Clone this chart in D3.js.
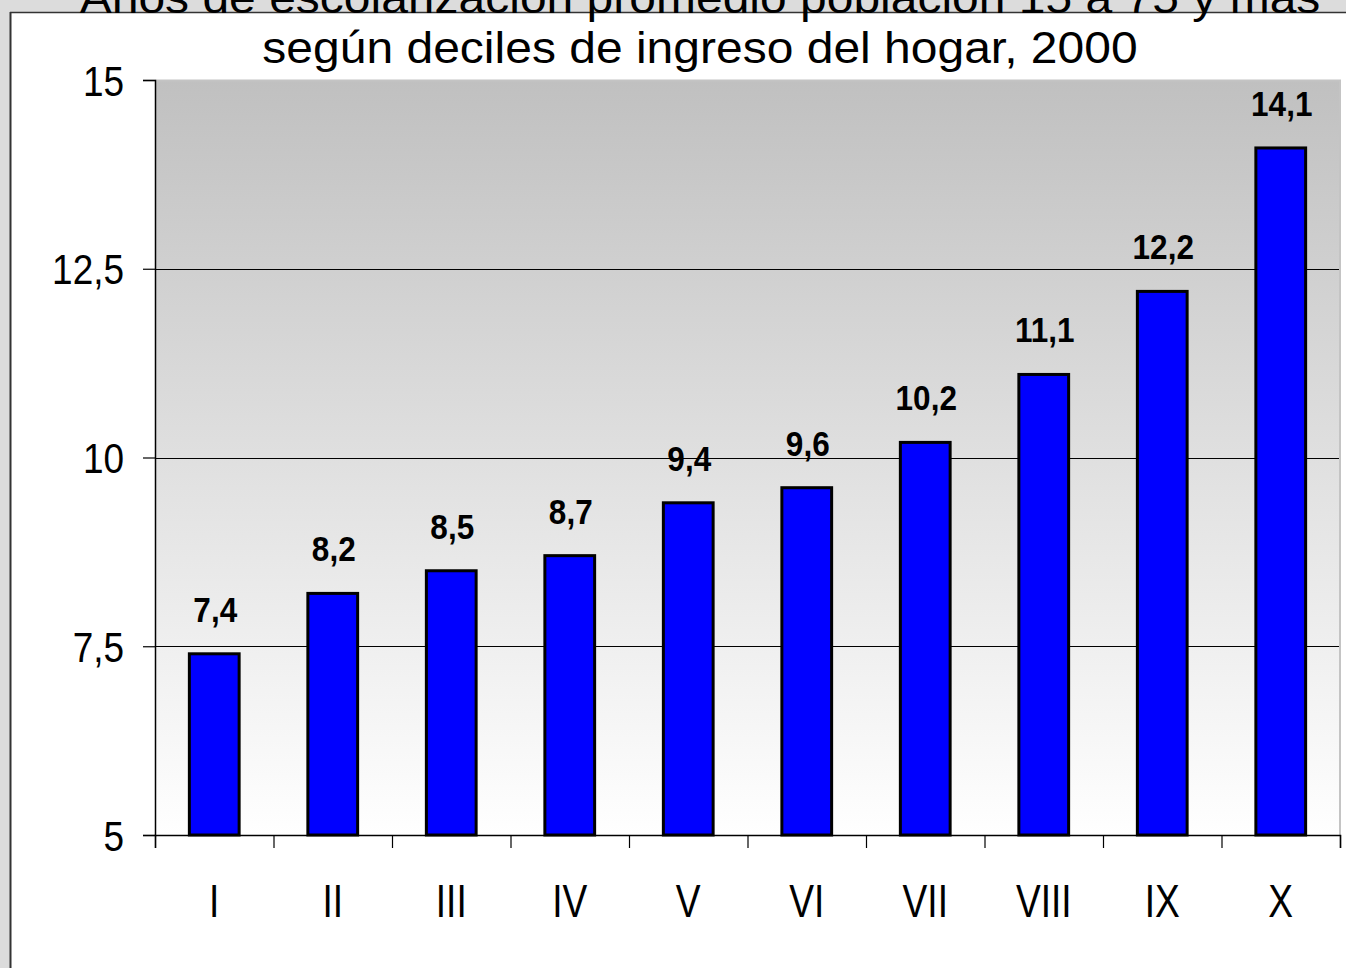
<!DOCTYPE html>
<html>
<head>
<meta charset="utf-8">
<script src="https://cdn.jsdelivr.net/npm/d3@7"></script>
<style>
  body { margin: 0; background: #fff; }
  svg { display: block; font-family: "Liberation Sans", Arial, sans-serif; }
</style>
</head>
<body>
<svg id="chart" width="1346" height="968"></svg>
<script>
// Datos
var titulo = ["Años de escolarización promedio población 15 a 75 y más", "según deciles de ingreso del hogar, 2000"];
var deciles = ["I", "II", "III", "IV", "V", "VI", "VII", "VIII", "IX", "X"];
var escolaridad = [7.4, 8.2, 8.5, 8.7, 9.4, 9.6, 10.2, 11.1, 12.2, 14.1];
var yTicks = [5, 7.5, 10, 12.5, 15];

var W = 1346, H = 968;
var plot = { left: 155, right: 1340, top: 80, bottom: 835 };

var locale = d3.formatLocale({ decimal: ",", thousands: ".", grouping: [3], currency: ["$", ""] });
var fmtTick = locale.format("~g");
var fmtVal = locale.format(".1f");

var svg = d3.select("#chart");

// fondo gris exterior + zona blanca del gráfico
svg.append("rect").attr("width", W).attr("height", H).attr("fill", "#dcdcdc");
svg.append("rect").attr("x", 11).attr("y", 13).attr("width", W - 11).attr("height", H - 13).attr("fill", "#fff");
svg.append("line").attr("x1", 10.5).attr("x2", 10.5).attr("y1", 12).attr("y2", H).attr("stroke", "#333").attr("stroke-width", 2);
svg.append("line").attr("x1", 10).attr("x2", W).attr("y1", 12.5).attr("y2", 12.5).attr("stroke", "#333").attr("stroke-width", 1.5);

var defs = svg.append("defs");
var grad = defs.append("linearGradient").attr("id", "bg").attr("x1", 0).attr("y1", 0).attr("x2", 0).attr("y2", 1);
grad.append("stop").attr("offset", "0%").attr("stop-color", "#c0c0c0");
grad.append("stop").attr("offset", "100%").attr("stop-color", "#ffffff");

var x = d3.scaleBand().domain(deciles).range([plot.left, plot.right]).paddingInner(0.58).paddingOuter(0.29);
var xEdges = d3.scaleLinear().domain([0, deciles.length]).range([plot.left, plot.right]);
var y = d3.scaleLinear().domain([5, 15]).range([plot.bottom, plot.top]);

// area del grafico
svg.append("rect")
  .attr("x", plot.left).attr("y", plot.top)
  .attr("width", plot.right - plot.left).attr("height", plot.bottom - plot.top)
  .attr("fill", "url(#bg)");
svg.append("path")
  .attr("d", "M" + plot.left + "," + (plot.top + 0.5) + "H" + plot.right + "V" + plot.bottom)
  .attr("fill", "none").attr("stroke", "#c4c4c4").attr("stroke-width", 2);

// lineas de division
svg.append("g").selectAll("line").data(yTicks.filter(d => d > 5 && d < 15)).join("line")
  .attr("x1", plot.left).attr("x2", plot.right - 1)
  .attr("y1", d => Math.round(y(d)) + 0.5).attr("y2", d => Math.round(y(d)) + 0.5)
  .attr("stroke", "#000").attr("stroke-width", 1.2);

// eje Y
var gy = svg.append("g").attr("transform", "translate(" + plot.left + ",0)")
  .call(d3.axisLeft(y).tickValues(yTicks).tickSize(12).tickPadding(19).tickFormat(fmtTick));
gy.select(".domain").attr("stroke", "#000").attr("stroke-width", 1.5);
gy.selectAll(".tick line").attr("stroke", "#000").attr("stroke-width", 1.2);
gy.selectAll(".tick text")
  .attr("font-size", 42).attr("font-family", "Liberation Sans, Arial, sans-serif").attr("fill", "#000")
  .attr("x", -31 / 0.88).attr("dy", "0.36em")
  .attr("transform", "scale(0.88,1)");

// eje X: marcas en los limites de cada decil
var gx = svg.append("g").attr("transform", "translate(0," + plot.bottom + ")")
  .call(d3.axisBottom(xEdges).ticks(deciles.length).tickSize(13).tickFormat(""));
gx.select(".domain").attr("stroke", "#000").attr("stroke-width", 1.5);
gx.selectAll(".tick line").attr("stroke", "#000").attr("stroke-width", 1.2);

// etiquetas de deciles
svg.append("g").selectAll("text").data(deciles).join("text")
  .attr("transform", d => "translate(" + (x(d) + x.bandwidth() / 2) + ",917) scale(0.79,1)")
  .attr("text-anchor", "middle").attr("font-size", 47).attr("fill", "#000")
  .text(d => d);

// barras
svg.append("g").selectAll("rect").data(escolaridad).join("rect")
  .attr("x", (d, i) => x(deciles[i]))
  .attr("y", d => y(d))
  .attr("width", x.bandwidth())
  .attr("height", d => y(5) - y(d))
  .attr("fill", "#0000ff").attr("stroke", "#000").attr("stroke-width", 3);

// valores
svg.append("g").selectAll("text").data(escolaridad).join("text")
  .attr("transform", (d, i) => "translate(" + (x(deciles[i]) + x.bandwidth() / 2 + 1) + "," + (y(d) - 32) + ") scale(0.9,1)")
  .attr("text-anchor", "middle").attr("font-size", 35).attr("font-weight", "bold").attr("fill", "#000")
  .text(d => fmtVal(d));

// titulo (la primera linea queda cortada por el borde superior, como en el original)
svg.append("g").selectAll("text").data(titulo).join("text")
  .attr("transform", (d, i) => "translate(700," + (13 + i * 50) + ") scale(1,0.94)")
  .attr("text-anchor", "middle").attr("font-size", 48).attr("fill", "#000")
  .text(d => d);
</script>
</body>
</html>
